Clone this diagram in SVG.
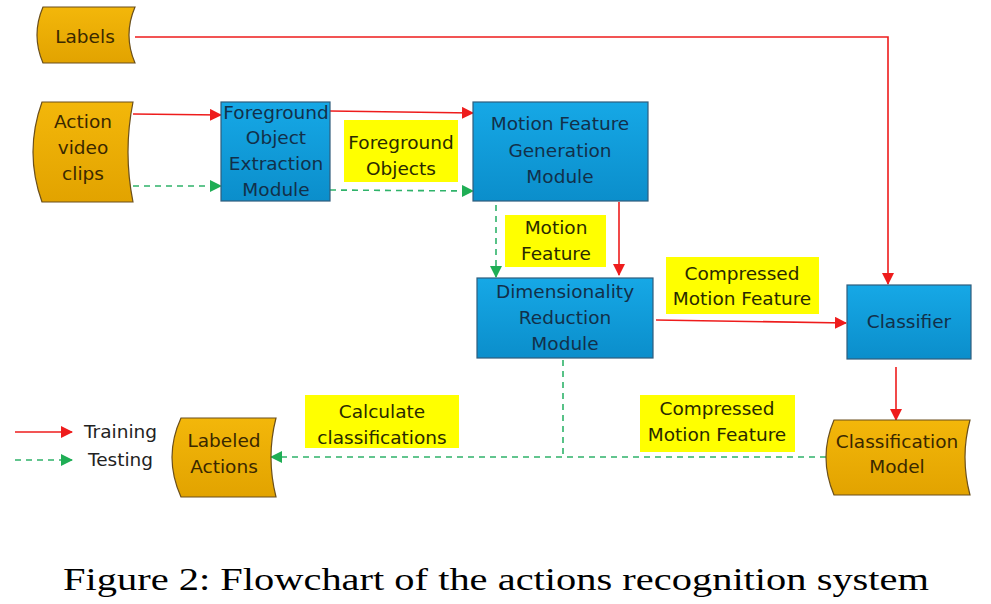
<svg xmlns="http://www.w3.org/2000/svg" width="991" height="604" viewBox="0 0 991 604">
<style>
.bl{fill:url(#gb);stroke:#2f5d7c;stroke-width:1.2}
.or{fill:url(#go);stroke:#6a4f1c;stroke-width:1.2}
.ye{fill:#ffff00}
.t{font-family:"DejaVu Sans",sans-serif;font-size:18.5px;text-anchor:middle}
.tb{fill:#12304a}
.to{fill:#3a2800}
.ty{fill:#2a2a00}
.tr{stroke:#ee1c1c;stroke-width:1.6;fill:none}
.te{stroke:#2fb36a;stroke-width:1.6;fill:none;stroke-dasharray:6 5}
</style>
<defs>
<linearGradient id="gb" x1="0" y1="0" x2="0" y2="1"><stop offset="0" stop-color="#16a8e6"/><stop offset="1" stop-color="#0b8ecb"/></linearGradient>
<linearGradient id="go" x1="0" y1="0" x2="0" y2="1"><stop offset="0" stop-color="#f3b70a"/><stop offset="1" stop-color="#e2a300"/></linearGradient>
<marker id="ar" viewBox="0 0 12 12" refX="11" refY="6" markerWidth="12" markerHeight="12" markerUnits="userSpaceOnUse" orient="auto"><path d="M0,0 L12,6 L0,12 Z" fill="#ee1c1c"/></marker>
<marker id="ag" viewBox="0 0 12 12" refX="11" refY="6" markerWidth="12" markerHeight="12" markerUnits="userSpaceOnUse" orient="auto"><path d="M0,0 L12,6 L0,12 Z" fill="#1fae55"/></marker>
</defs>
<rect width="991" height="604" fill="#fff"/>

<g id="connectors">
<path class="tr" d="M135,37 H888 V284" marker-end="url(#ar)"/>
<path class="tr" d="M133,114 L221,115" marker-end="url(#ar)"/>
<path class="te" d="M133,186 H221" marker-end="url(#ag)"/>
<path class="tr" d="M330,111 L473,113" marker-end="url(#ar)"/>
<path class="te" d="M330,190 L473,191" marker-end="url(#ag)"/>
<path class="te" d="M496,205 V277" marker-end="url(#ag)"/>
<path class="tr" d="M619,202 V275" marker-end="url(#ar)"/>
<path class="tr" d="M656,320 L846,323" marker-end="url(#ar)"/>
<path class="tr" d="M896,367 V420" marker-end="url(#ar)"/>
<path class="te" d="M826,457 H271" marker-end="url(#ag)"/>
<path class="te" d="M563,360 V457"/>
</g>

<g id="legend">
<path class="tr" d="M15,432 H72" marker-end="url(#ar)"/>
<path class="te" d="M15,460 H72" marker-end="url(#ag)"/>
<text class="t" x="84" y="438" style="text-anchor:start;fill:#222">Training</text>
<text class="t" x="88" y="466" style="text-anchor:start;fill:#222">Testing</text>
</g>

<g id="labels">
<path class="or" d="M43,7 H135 Q123,35 135,63 H43 Q31,35 43,7 Z"/>
<text class="t to" x="85" y="43">Labels</text>
</g>

<g id="action-video-clips">
<path class="or" d="M42,102 H133 Q123,152 133,202 H42 Q24,152 42,102 Z"/>
<text class="t to" x="83" y="128">Action</text>
<text class="t to" x="83" y="154">video</text>
<text class="t to" x="83" y="180">clips</text>
</g>

<g id="foreground-extraction">
<rect class="bl" x="221" y="102" width="109" height="99"/>
<text class="t tb" x="276" y="119">Foreground</text>
<text class="t tb" x="276" y="144">Object</text>
<text class="t tb" x="276" y="170">Extraction</text>
<text class="t tb" x="276" y="196">Module</text>
</g>

<g id="foreground-objects-label">
<rect class="ye" x="344" y="120" width="114" height="62"/>
<text class="t ty" x="401" y="149">Foreground</text>
<text class="t ty" x="401" y="175">Objects</text>
</g>

<g id="motion-feature-generation">
<rect class="bl" x="473" y="102" width="175" height="99"/>
<text class="t tb" x="560" y="130">Motion Feature</text>
<text class="t tb" x="560" y="157">Generation</text>
<text class="t tb" x="560" y="183">Module</text>
</g>

<g id="motion-feature-label">
<rect class="ye" x="505" y="215" width="101" height="52"/>
<text class="t ty" x="556" y="234">Motion</text>
<text class="t ty" x="556" y="260">Feature</text>
</g>

<g id="dimensionality-reduction">
<rect class="bl" x="477" y="278" width="176" height="80"/>
<text class="t tb" x="565" y="298">Dimensionality</text>
<text class="t tb" x="565" y="324">Reduction</text>
<text class="t tb" x="565" y="350">Module</text>
</g>

<g id="compressed-label-top">
<rect class="ye" x="666" y="257" width="153" height="57"/>
<text class="t ty" x="742" y="280">Compressed</text>
<text class="t ty" x="742" y="305">Motion Feature</text>
</g>

<g id="classifier">
<rect class="bl" x="847" y="285" width="124" height="74"/>
<text class="t tb" x="909" y="328">Classifier</text>
</g>

<g id="classification-model">
<path class="or" d="M834,420 H970 Q960,457 970,495 H834 Q818,457 834,420 Z"/>
<text class="t to" x="897" y="448">Classification</text>
<text class="t to" x="897" y="473">Model</text>
</g>

<g id="compressed-label-bottom">
<rect class="ye" x="640" y="395" width="155" height="57"/>
<text class="t ty" x="717" y="415">Compressed</text>
<text class="t ty" x="717" y="441">Motion Feature</text>
</g>

<g id="calculate-label">
<rect class="ye" x="305" y="395" width="154" height="53"/>
<text class="t ty" x="382" y="418">Calculate</text>
<text class="t ty" x="382" y="444">classifications</text>
</g>

<g id="labeled-actions">
<path class="or" d="M181,418 H276 Q266,457 276,497 H181 Q163,457 181,418 Z"/>
<text class="t to" x="224" y="447">Labeled</text>
<text class="t to" x="224" y="473">Actions</text>
</g>

<text x="496" y="590" textLength="866" lengthAdjust="spacingAndGlyphs" style="font-family:'Liberation Serif',serif;font-size:31px;text-anchor:middle;fill:#000">Figure 2: Flowchart of the actions recognition system</text>
</svg>
